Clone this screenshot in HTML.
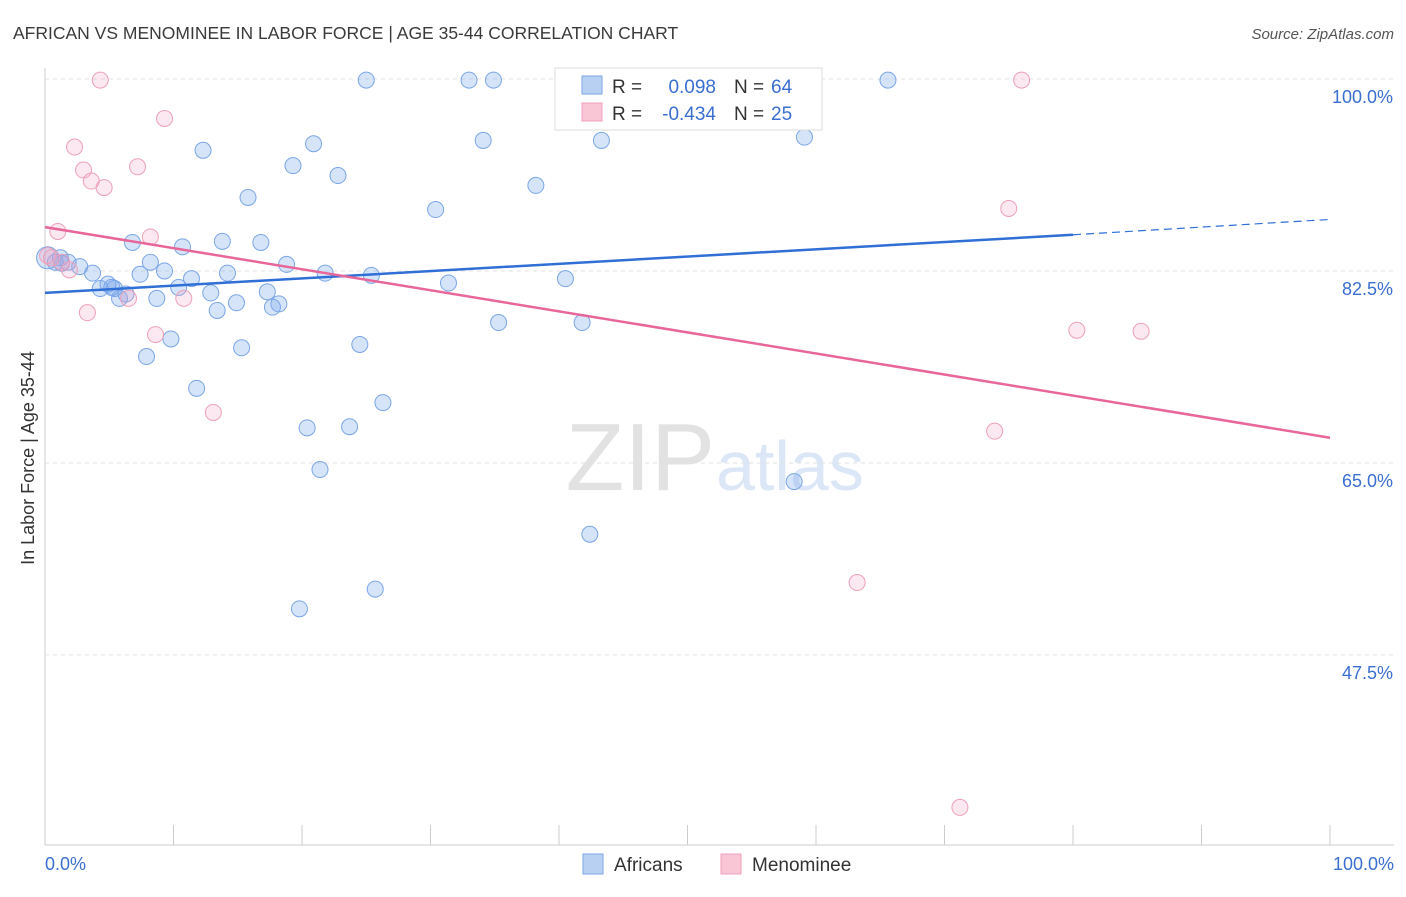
<!DOCTYPE html>
<html><head><meta charset="utf-8"><style>
body{margin:0;background:#fff;font-family:"Liberation Sans",sans-serif}
svg text{font-family:"Liberation Sans",sans-serif}
</style></head><body>
<svg id="c" width="1406" height="892">
<text x="13" y="39" font-size="17.5" fill="#3a3a3a">AFRICAN VS MENOMINEE IN LABOR FORCE | AGE 35-44 CORRELATION CHART</text>
<text x="1394" y="39" font-size="15" fill="#555" font-style="italic" text-anchor="end">Source: ZipAtlas.com</text>
<text x="715" y="490" font-size="96" fill="#e2e2e2" font-family="Liberation Serif" text-anchor="end">ZIP</text>
<text x="716" y="490" font-size="70" fill="#dbe6f6">atlas</text>
<text transform="translate(34,458) rotate(-90)" font-size="18" fill="#333" text-anchor="middle">In Labor Force | Age 35-44</text>
<g id="grid"></g><g id="pts"></g><g id="trend"></g>
<g>
<rect x="555" y="68" width="267" height="62" fill="#fff" stroke="#ddd"/>
<rect x="582" y="76" width="20" height="18" fill="#b8d1f3" stroke="#7aa6e6"/>
<rect x="582" y="103" width="20" height="18" fill="#f9c6d5" stroke="#eea0b8"/>
<text x="612" y="93" font-size="19" fill="#333">R =</text>
<text x="716" y="93" font-size="19" fill="#3a6fd0" text-anchor="end">0.098</text>
<text x="734" y="93" font-size="19" fill="#333">N =</text>
<text x="771" y="93" font-size="19" fill="#3a6fd0">64</text>
<text x="612" y="120" font-size="19" fill="#333">R =</text>
<text x="716" y="120" font-size="19" fill="#3a6fd0" text-anchor="end">-0.434</text>
<text x="734" y="120" font-size="19" fill="#333">N =</text>
<text x="771" y="120" font-size="19" fill="#3a6fd0">25</text>
</g>
<g>
<rect x="583" y="854" width="20" height="20" fill="#b8d1f3" stroke="#7aa6e6"/>
<text x="614" y="871" font-size="19" fill="#333">Africans</text>
<rect x="721" y="854" width="20" height="20" fill="#f9c6d5" stroke="#eea0b8"/>
<text x="752" y="871" font-size="19" fill="#333">Menominee</text>
</g>
<text x="45" y="870" font-size="18" fill="#3a6fd0">0.0%</text>
<text x="1394" y="870" font-size="18" fill="#3a6fd0" text-anchor="end">100.0%</text>
</svg>
<script>
const yTicks=[100,82.5,65,47.5];
const yTickLabels=["100.0%","82.5%","65.0%","47.5%"];
const bx=[0.2,0.8,1.3,1.8,2.7,3.7,4.3,4.9,5.4,5.8,6.3,6.8,7.4,7.9,8.2,8.7,9.3,9.8,10.4,10.7,11.4,11.8,12.3,12.9,13.4,13.8,14.2,14.9,15.3,15.8,16.8,17.3,17.7,18.2,18.8,19.3,19.8,20.4,20.9,21.4,21.8,22.8,23.7,24.5,25.0,25.4,25.7,26.3,30.4,31.4,33.0,34.1,34.9,35.3,38.2,40.5,41.8,42.4,43.3,58.3,59.1,65.6,1.2,5.2];
const by=[83.7,83.3,83.2,83.3,82.9,82.3,80.9,81.3,80.9,80.0,80.4,85.1,82.2,74.7,83.3,80.0,82.5,76.3,81.0,84.7,81.8,71.8,93.5,80.5,78.9,85.2,82.3,79.6,75.5,89.2,85.1,80.6,79.2,79.5,83.1,92.1,51.7,68.2,94.1,64.4,82.3,91.2,68.3,75.8,99.9,82.1,53.5,70.5,88.1,81.4,99.9,94.4,99.9,77.8,90.3,81.8,77.8,58.5,94.4,63.3,94.7,99.9,83.7,81.0];
const px=[0.2,1.0,1.9,2.3,3.0,3.3,3.6,4.3,4.6,6.5,7.2,8.2,8.6,9.3,10.8,13.1,63.2,71.2,73.9,75.0,76.0,80.3,85.3,1.3,0.5];
const py=[83.9,86.1,82.6,93.8,91.7,78.7,90.7,99.9,90.1,80.0,92.0,85.6,76.7,96.4,80.0,69.6,54.1,33.6,67.9,88.2,99.9,77.1,77.0,83.3,83.7];
const blueTrend=[80.5,85.8,87.2];
const pinkTrend=[86.5,67.3];
const X=v=>45+v*12.85, Y=v=>79+(100-v)*10.97;
const NS="http://www.w3.org/2000/svg";
function mk(p,t,a){const e=document.createElementNS(NS,t);for(const k in a)e.setAttribute(k,a[k]);p.appendChild(e);return e;}
const g=document.getElementById('grid');
mk(g,'line',{x1:45,y1:68,x2:45,y2:845,stroke:'#ccc'});
mk(g,'line',{x1:45,y1:845,x2:1394,y2:845,stroke:'#ccc'});
for(let i=0;i<=10;i++){const t=mk(g,'line',{x1:X(i*10),y1:825,x2:X(i*10),y2:845,stroke:'#ccc'});

}
yTicks.forEach((v,i)=>{const l=mk(g,'line',{x1:45,y1:Y(v),x2:1394,y2:Y(v),stroke:'#e2e2e2','stroke-dasharray':'4,4'});


const t=mk(g,'text',{x:1393,y:Y(v)+24,'font-size':18,fill:'#3a6fd0','text-anchor':'end'});t.textContent=yTickLabels[i];

});
const pg=document.getElementById('pts');
bx.forEach((v,i)=>{const c=mk(pg,'circle',{cx:X(v),cy:Y(by[i]),r:i==0?11:8,fill:'rgba(120,165,235,0.3)',stroke:'#7aa6e6','stroke-width':1});

});
px.forEach((v,i)=>{const c=mk(pg,'circle',{cx:X(v),cy:Y(py[i]),r:8,fill:'rgba(245,165,195,0.25)',stroke:'#eea0b8','stroke-width':1});

});
const tg=document.getElementById('trend');
const b1=mk(tg,'line',{x1:X(0),y1:Y(blueTrend[0]),x2:X(80),y2:Y(blueTrend[1]),stroke:'#2f6fd6','stroke-width':2.5});


const b2=mk(tg,'line',{x1:X(80),y1:Y(blueTrend[1]),x2:X(100),y2:Y(blueTrend[2]),stroke:'#2f6fd6','stroke-width':1.2,'stroke-dasharray':'8,5'});


const p1=mk(tg,'line',{x1:X(0),y1:Y(pinkTrend[0]),x2:X(100),y2:Y(pinkTrend[1]),stroke:'#e8669a','stroke-width':2.5});


</script>
</body></html>
